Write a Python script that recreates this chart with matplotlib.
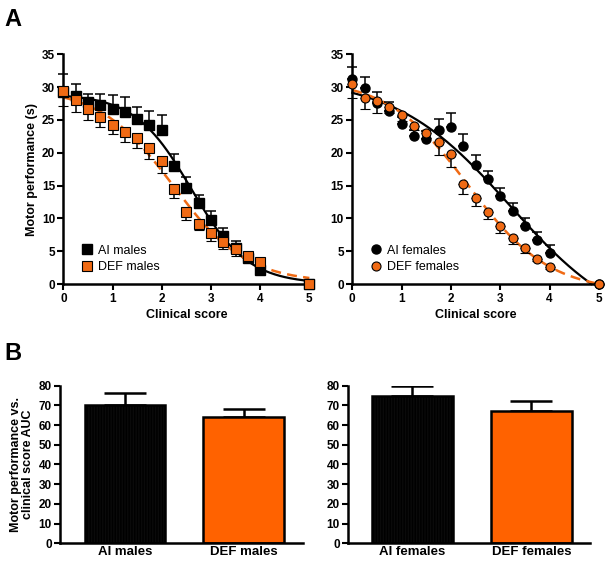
import numpy as np
import matplotlib.pyplot as plt

plt.rcParams['font.family'] = ['Liberation Sans', 'DejaVu Sans']

# clinical score (x) for the time course
score = [0, 0.25, 0.5, 0.75, 1, 1.25, 1.5, 1.75, 2, 2.25, 2.5, 2.75, 3, 3.25, 3.5, 3.75, 4, 5]

# males
ai_m = [29.3, 28.7, 27.8, 27.2, 26.7, 26.2, 25.1, 24.3, 23.5, 18.0, 14.7, 12.3, 9.8, 7.3, 5.5, 4.0, 2.2, 0.0]
ai_m_err = [2.7, 1.8, 1.1, 1.8, 2.1, 2.3, 1.9, 2.0, 2.2, 1.8, 1.6, 1.3, 1.3, 1.2, 1.0, 0.7, 0.5, 0.0]
def_m = [29.4, 28.1, 26.6, 25.4, 24.3, 23.2, 22.2, 20.7, 18.8, 14.5, 11.0, 9.2, 7.8, 6.4, 5.3, 4.3, 3.4, 0.1]
def_m_err = [2.3, 1.9, 1.6, 1.5, 1.5, 1.5, 1.5, 1.7, 1.8, 1.4, 1.3, 1.0, 1.2, 1.0, 1.0, 0.8, 0.6, 0.0]

# females
ai_f = [31.2, 29.9, 27.6, 26.3, 24.4, 22.6, 22.1, 23.4, 24.0, 21.1, 18.2, 16.0, 13.4, 11.1, 8.9, 6.8, 4.8, 0.0]
ai_f_err = [1.9, 1.6, 1.6, 1.5, 1.1, 0.9, 1.2, 1.8, 2.1, 1.8, 1.5, 1.2, 1.2, 1.2, 1.1, 1.1, 1.2, 0.0]
def_f = [30.5, 28.4, 27.9, 26.9, 25.7, 24.1, 23.0, 21.6, 19.8, 15.2, 13.1, 11.0, 8.9, 7.0, 5.5, 3.9, 2.6, 0.0]
def_f_err = [2.2, 1.8, 1.8, 0.8, 0.8, 0.6, 0.8, 1.9, 1.9, 1.5, 1.2, 1.1, 1.1, 0.9, 0.7, 0.4, 0.3, 0.0]

# AUC bars
bar_m_labels = ['AI males', 'DEF males']
bar_m = [70.2, 64.0]
bar_m_err = [6.2, 4.0]
bar_f_labels = ['AI females', 'DEF females']
bar_f = [74.8, 67.1]
bar_f_err = [5.1, 5.1]

orange = '#F06A14'
bar_orange = '#FF6200'

fig = plt.figure(figsize=(6.09, 5.65), dpi=100)


def style(ax):
    for s in ['top', 'right']:
        ax.spines[s].set_visible(False)
    for s in ['left', 'bottom']:
        ax.spines[s].set_linewidth(1.8)
    ax.tick_params(width=1.5, length=4, labelsize=8.5, pad=2)
    for t in ax.get_xticklabels() + ax.get_yticklabels():
        t.set_fontweight('bold')


def sigmoid_fit(x, y):
    # Boltzmann sigmoid, grid search on V50/slope, least squares for top/bottom
    x = np.asarray(x, float)
    y = np.asarray(y, float)
    best = None
    for v50 in np.linspace(1.0, 4.5, 141):
        for slope in np.linspace(0.2, 3.0, 113):
            s = 1.0 / (1.0 + np.exp((x - v50) / slope))
            A = np.column_stack([np.ones_like(s), s])
            coef, *_ = np.linalg.lstsq(A, y, rcond=None)
            r = np.sum((A @ coef - y) ** 2)
            if best is None or r < best[0]:
                best = (r, v50, slope, coef)
    _, v50, slope, coef = best
    xs = np.linspace(0, 5, 300)
    ys = coef[0] + coef[1] / (1.0 + np.exp((xs - v50) / slope))
    return xs, ys


def curve(ax, x, y, **kw):
    xs, ys = sigmoid_fit(x, y)
    m = ys >= 0
    ax.plot(xs[m], ys[m], **kw)


def time_panel(ax, ai, ai_err, de, de_err, marker, lab_ai, lab_de):
    x = np.array(score)
    curve(ax, x, ai, color='black', lw=1.6, zorder=2)
    curve(ax, x, de, color=orange, lw=1.8, ls=(0, (4, 2.5)), zorder=2)
    ax.errorbar(x, ai, yerr=[np.zeros(len(ai)), ai_err], fmt=marker, color='black',
                ms=6.5, mec='black', ecolor='black', elinewidth=1.1, capsize=3.5,
                capthick=1.1, label=lab_ai, zorder=3)
    ax.errorbar(x, de, yerr=[de_err, np.zeros(len(de))], fmt=marker, color=orange,
                ms=6.5, mec='black', mew=0.8, ecolor='black', elinewidth=1.1, capsize=3.5,
                capthick=1.1, label=lab_de, zorder=4)
    ax.set_xlim(0, 5)
    ax.set_ylim(0, 35)
    ax.set_xticks(range(6))
    ax.set_yticks(range(0, 36, 5))
    ax.set_xlabel('Clinical score', fontsize=9, fontweight='bold', labelpad=3)
    style(ax)
    h, l = ax.get_legend_handles_labels()
    h = [hh[0] for hh in h]
    ax.legend(h, l, loc='lower left', bbox_to_anchor=(0.02, 0.0), frameon=False,
              fontsize=9, handletextpad=0.3, labelspacing=0.35, handlelength=1.2)
    for ln in ax.lines:
        ln.set_clip_on(False)


ax1 = fig.add_axes([0.104, 0.497, 0.404, 0.407])
time_panel(ax1, ai_m, ai_m_err, def_m, def_m_err, 's', 'AI males', 'DEF males')
ax1.set_ylabel('Motor performance (s)', fontsize=9, fontweight='bold', labelpad=3)

ax2 = fig.add_axes([0.5785, 0.497, 0.405, 0.407])
time_panel(ax2, ai_f, ai_f_err, def_f, def_f_err, 'o', 'AI females', 'DEF females')


def bar_panel(ax, labels, vals, errs, x0, x1):
    pos = np.arange(len(vals))
    plt.rcParams['hatch.color'] = '#3a3a3a'
    ax.bar(pos[0], vals[0], width=0.68, color='#0a0a0a', edgecolor='black',
           linewidth=1.8, hatch='||||||', zorder=2)
    ax.bar(pos[1], vals[1], width=0.68, color=bar_orange, edgecolor='black',
           linewidth=1.8, zorder=2)
    ax.errorbar(pos, vals, yerr=[np.zeros(len(vals)), errs], fmt='none', ecolor='black',
                elinewidth=1.8, capsize=15, capthick=1.8, zorder=1)
    ax.set_xlim(x0, x1)
    ax.set_ylim(0, 80)
    ax.set_yticks(range(0, 81, 10))
    ax.set_xticks(pos)
    ax.set_xticklabels(labels)
    style(ax)
    ax.tick_params(axis='x', length=0, labelsize=9.5)


ax3 = fig.add_axes([0.0985, 0.0384, 0.399, 0.279])
bar_panel(ax3, bar_m_labels, bar_m, bar_m_err, -0.549, 1.502)
ax3.set_ylabel('Motor performance vs.\nclinical score AUC', fontsize=9,
               fontweight='bold', labelpad=3, linespacing=1.0)

ax4 = fig.add_axes([0.5714, 0.0384, 0.397, 0.279])
bar_panel(ax4, bar_f_labels, bar_f, bar_f_err, -0.542, 1.492)

fig.text(0.008, 0.985, 'A', fontsize=17, fontweight='bold', va='top')
fig.text(0.008, 0.395, 'B', fontsize=17, fontweight='bold', va='top')

fig.savefig('out.png', dpi=100)
